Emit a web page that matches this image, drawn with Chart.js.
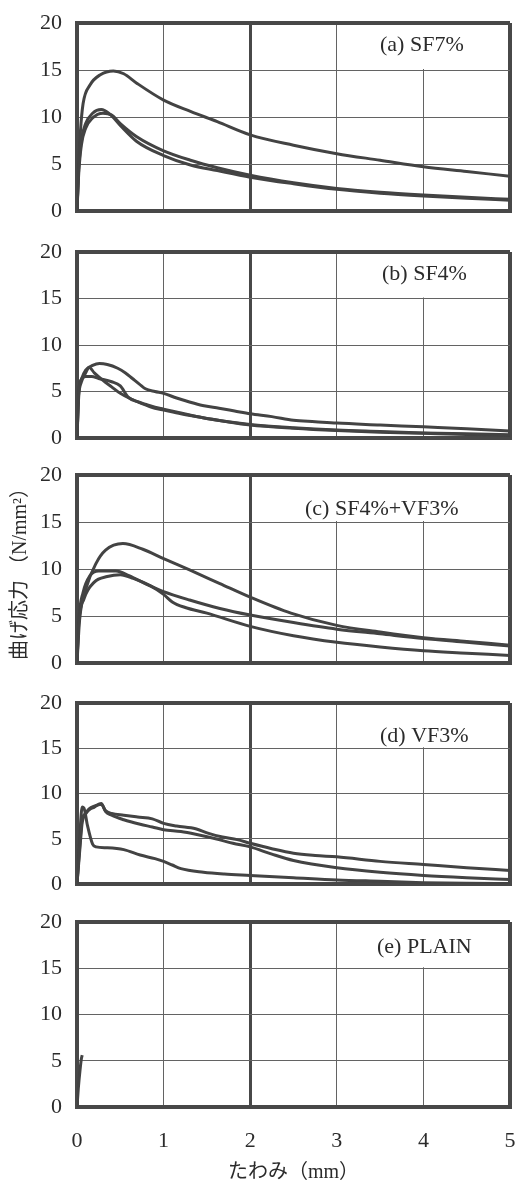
<!DOCTYPE html>
<html><head><meta charset="utf-8">
<script src="https://cdn.jsdelivr.net/npm/chart.js@4.4.1/dist/chart.umd.min.js"></script>
<style>
html,body{margin:0;padding:0;background:#fff}
body{position:relative;width:517px;height:1185px;overflow:hidden}
canvas{position:absolute;left:0}
</style></head>
<body>
<canvas id="ca" width="517" height="216" style="top:9px"></canvas>
<canvas id="cb" width="517" height="214" style="top:238px"></canvas>
<canvas id="cc" width="517" height="216" style="top:461px"></canvas>
<canvas id="cd" width="517" height="209" style="top:689px"></canvas>
<canvas id="ce" width="517" height="277" style="top:908px"></canvas>
<script>
// ---- tick labels / titles ----
const xTicks = [0, 1, 2, 3, 4, 5];
const yTicks = [0, 5, 10, 15, 20];
const xTitle = 'たわみ（mm）';
const yTitle = '曲げ応力 （N/mm²）';
const panelLabels = ['(a) SF7%', '(b) SF4%', '(c) SF4%+VF3%', '(d) VF3%', '(e) PLAIN'];

// ---- (a) SF7% ----
const deflA1 = [0,0.02,0.04,0.07,0.15,0.27,0.42,0.54,0.69,1.0,1.31,1.62,2.0,2.5,3.0,3.5,4.0,4.5,5.0];
const stressA1 = [0,5,8.5,11.4,13.4,14.5,14.9,14.6,13.6,11.8,10.6,9.5,8.1,7.0,6.1,5.4,4.7,4.2,3.7];
const deflA2 = [0,0.02,0.05,0.1,0.18,0.28,0.38,0.5,0.69,1.0,1.31,1.62,2.0,2.5,3.0,3.5,4.0,4.5,5.0];
const stressA2 = [0,4.5,7.5,9.3,10.4,10.8,10.3,9.1,7.4,5.9,4.9,4.3,3.6,2.9,2.3,1.9,1.6,1.35,1.15];
const deflA3 = [0,0.02,0.05,0.1,0.18,0.3,0.4,0.5,0.69,1.0,1.31,1.62,2.0,2.5,3.0,3.5,4.0,4.5,5.0];
const stressA3 = [0,4,7,8.8,9.9,10.4,10.2,9.3,7.9,6.4,5.4,4.6,3.8,3.0,2.4,2.0,1.7,1.45,1.25];

// ---- (b) SF4% ----
const deflB1 = [0,0.02,0.05,0.1,0.18,0.26,0.35,0.47,0.56,0.64,0.72,0.79,0.9,1.0,1.15,1.29,1.45,1.64,1.82,2.0,2.25,2.5,2.75,3.0,3.5,4.0,4.5,5.0];
const stressB1 = [0,5,6.3,7.3,7.8,8.0,7.9,7.5,7.0,6.4,5.8,5.3,5.0,4.8,4.3,3.9,3.5,3.2,2.9,2.6,2.3,1.9,1.75,1.6,1.4,1.2,1.0,0.75];
const deflB2 = [0,0.02,0.05,0.1,0.17,0.25,0.4,0.5,0.59,0.7,0.8,0.9,1.0,1.2,1.44,1.7,2.0,2.5,3.0,3.5,4.0,4.5,5.0];
const stressB2 = [0,5,6.3,6.6,6.6,6.4,6.05,5.6,4.4,3.9,3.6,3.3,3.1,2.7,2.2,1.8,1.45,1.1,0.85,0.7,0.55,0.45,0.35];
const deflB3 = [0,0.02,0.05,0.1,0.14,0.2,0.3,0.4,0.5,0.6,0.75,0.9,1.0,1.2,1.44,1.7,2.0,2.5,3.0,3.5,4.0,4.5,5.0];
const stressB3 = [0,4.5,6.0,7.0,7.6,7.0,6.2,5.5,4.8,4.3,3.7,3.2,3.0,2.6,2.2,1.8,1.4,1.05,0.8,0.62,0.5,0.38,0.28];

// ---- (c) SF4%+VF3% ----
const deflC1 = [0,0.03,0.11,0.22,0.33,0.53,0.76,1.0,1.3,1.65,2.0,2.47,3.0,3.5,4.0,4.5,5.0];
const stressC1 = [0,4.6,8.1,10.6,12.0,12.7,12.1,11.1,9.9,8.45,7.0,5.3,4.0,3.3,2.7,2.3,1.9];
const deflC2 = [0,0.02,0.07,0.15,0.25,0.45,0.6,0.8,1.0,1.3,1.65,2.0,2.5,3.0,3.5,4.0,4.5,5.0];
const stressC2 = [0,4.5,7.5,9.3,9.8,9.8,9.3,8.4,7.6,6.7,5.8,5.1,4.3,3.6,3.1,2.6,2.2,1.8];
const deflC3 = [0,0.02,0.08,0.2,0.35,0.5,0.65,0.85,1.0,1.1,1.25,1.5,2.0,2.5,3.0,3.5,4.0,4.5,5.0];
const stressC3 = [0,4.2,6.8,8.6,9.2,9.4,9.0,8.2,7.3,6.5,5.9,5.3,3.9,2.9,2.2,1.7,1.3,1.05,0.8];

// ---- (d) VF3% ----
const deflD1 = [0,0.03,0.06,0.09,0.14,0.2,0.28,0.33,0.4,0.54,0.7,0.87,1.0,1.15,1.37,1.52,1.68,1.85,2.0,2.25,2.5,2.75,3.0,3.5,4.0,4.5,5.0];
const stressD1 = [0,4,7.2,7.7,8.3,8.6,8.8,8.1,7.8,7.6,7.4,7.2,6.7,6.4,6.1,5.6,5.2,4.9,4.5,3.9,3.4,3.15,3.0,2.5,2.15,1.8,1.5];
const deflD2 = [0,0.03,0.06,0.09,0.14,0.2,0.28,0.33,0.4,0.54,0.73,0.87,1.0,1.2,1.37,1.6,1.8,2.0,2.25,2.5,3.0,3.5,4.0,4.5,5.0];
const stressD2 = [0,3.5,6.8,7.6,8.2,8.5,8.9,8.0,7.6,7.1,6.6,6.3,6.0,5.8,5.5,5.0,4.5,4.1,3.3,2.6,1.8,1.3,0.95,0.7,0.5];
const deflD3 = [0,0.03,0.06,0.08,0.12,0.18,0.22,0.35,0.54,0.73,0.9,1.0,1.1,1.2,1.46,1.7,2.0,2.5,3.0,3.5,4.0,4.5,5.0];
const stressD3 = [0,5,8.5,8.4,6.5,4.4,4.1,4.0,3.8,3.2,2.8,2.5,2.1,1.7,1.3,1.1,0.95,0.7,0.45,0.3,0.15,0.08,0.05];

// ---- (e) PLAIN ----
const deflE1 = [0,0.015,0.035,0.05,0.06];
const stressE1 = [0,2,4,5.2,5.6];

// ---------------------------------------------------------------
const INK = '#434343';
const GRID = '#636363';
const FRAME = '#484848';
const TEXT = '#2b2b2b';
const SERIF = "'Liberation Serif','Times New Roman','Noto Sans CJK JP',serif";

function pts(xs, ys){ return xs.map((x,i)=>({x:x, y:ys[i]})); }

const labelPlugin = {
  id: 'panelLabel',
  beforeDatasetsDraw(chart){
    const o = chart.options.plugins.panelLabel;
    if(!o) return;
    const {ctx, chartArea} = chart;
    const ys = chart.scales.y;
    ctx.save();
    ctx.font = '22px ' + SERIF;
    const w = ctx.measureText(o.text).width;
    const lx = chartArea.left + o.dx;
    const ly = chartArea.top + o.dy;
    ctx.fillStyle = '#ffffff';
    const boxTop = chartArea.top + 2;
    const boxBot = ys.getPixelForValue(15) - 1;
    ctx.fillRect(lx - 8, boxTop, w + 16, boxBot - boxTop);
    ctx.fillStyle = TEXT;
    ctx.textAlign = 'left';
    ctx.textBaseline = 'middle';
    ctx.fillText(o.text, lx, ly);
    ctx.restore();
  }
};

function makePanel(id, series, opt){
  const datasets = series.map(s => ({
    data: pts(s[0], s[1]),
    borderColor: INK,
    borderWidth: 3,
    pointRadius: 0,
    fill: false,
    cubicInterpolationMode: 'monotone'
  }));
  const bottomH = opt.last ? 78 : 14;
  new Chart(document.getElementById(id), {
    type: 'line',
    data: { datasets },
    plugins: [labelPlugin],
    options: {
      responsive: false,
      animation: false,
      events: [],
      layout: { padding: { top: 14, right: 7, left: 0, bottom: 0 } },
      plugins: {
        legend: { display: false },
        tooltip: { enabled: false },
        panelLabel: { text: opt.label, dx: opt.dx, dy: opt.dy }
      },
      scales: {
        x: {
          type: 'linear', min: 0, max: 5,
          afterBuildTicks: s => { s.ticks = xTicks.map(v => ({value: v})); },
          afterFit: s => { s.height = bottomH; s.paddingLeft = 0; s.paddingRight = 0; },
          ticks: {
            display: !!opt.last, padding: 21, color: TEXT,
            font: { family: SERIF, size: 22 }
          },
          grid: {
            drawTicks: false,
            color: c => (c.tick && (c.tick.value === 2 || c.tick.value === 5 || c.tick.value === 0)) ? FRAME : GRID,
            lineWidth: c => {
              const v = c.tick ? c.tick.value : -1;
              if (v === 0 || v === 5) return 4;
              if (v === 2) return 3;
              return 1;
            }
          },
          border: { display: true, width: 4, color: FRAME },
          title: {
            display: !!opt.last, text: xTitle, color: TEXT,
            font: { family: SERIF, size: 20 },
            padding: { top: 0, bottom: 0 }
          }
        },
        y: {
          type: 'linear', min: 0, max: 20,
          afterBuildTicks: s => { s.ticks = yTicks.map(v => ({value: v})); },
          afterFit: s => { s.width = 77; s.paddingTop = 0; s.paddingBottom = 0; },
          ticks: {
            padding: 15, color: TEXT,
            font: { family: SERIF, size: 22 }
          },
          grid: {
            drawTicks: false,
            color: c => (c.tick && (c.tick.value === 20 || c.tick.value === 0)) ? FRAME : GRID,
            lineWidth: c => {
              const v = c.tick ? c.tick.value : -1;
              return (v === 20 || v === 0) ? 4 : 1;
            }
          },
          border: { display: true, width: 4, color: FRAME },
          title: {
            display: !!opt.yTitle, text: yTitle, color: TEXT,
            font: { family: SERIF, size: 20 },
            padding: { top: 9, bottom: 0 }
          }
        }
      }
    }
  });
}

makePanel('ca', [[deflA1,stressA1],[deflA2,stressA2],[deflA3,stressA3]], {label: panelLabels[0], dx: 303, dy: 22});
makePanel('cb', [[deflB1,stressB1],[deflB2,stressB2],[deflB3,stressB3]], {label: panelLabels[1], dx: 305, dy: 22});
makePanel('cc', [[deflC1,stressC1],[deflC2,stressC2],[deflC3,stressC3]], {label: panelLabels[2], dx: 228, dy: 34, yTitle: true});
makePanel('cd', [[deflD1,stressD1],[deflD2,stressD2],[deflD3,stressD3]], {label: panelLabels[3], dx: 303, dy: 33});
makePanel('ce', [[deflE1,stressE1]], {label: panelLabels[4], dx: 300, dy: 25, last: true});
</script>
</body></html>
